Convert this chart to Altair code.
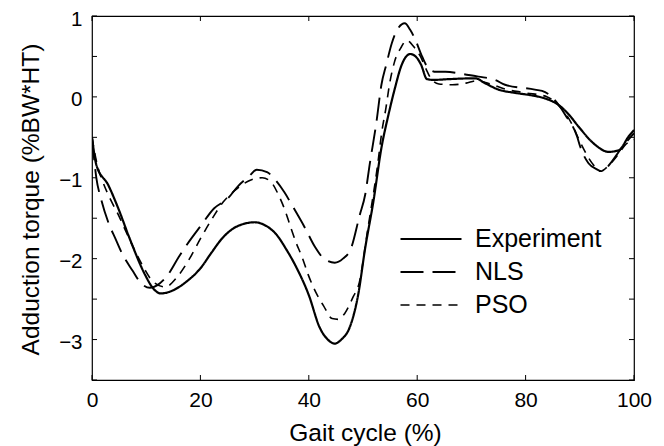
import altair as alt
import pandas as pd

# ---- data ----
exp_x = [0, 0.8, 3, 4.8, 7, 9.8, 11.2, 12.7, 15, 17.5, 20, 22, 24, 26, 28, 30, 32, 34, 35.8, 37.8,
         40, 42, 43.5, 44.8, 46, 47.6, 49.1, 50.4, 51.9, 53.4, 54.7, 55.9, 57.1, 58.7, 59.7, 60.7,
         61.8, 63, 66, 70.7, 72.5, 75, 78, 81, 83.6, 86.1, 88, 89.8, 92.8, 95.3, 97.2, 99, 100]
exp_y = [-0.5, -0.84, -1.09, -1.37, -1.76, -2.2, -2.36, -2.43, -2.39, -2.28, -2.12, -1.93, -1.75,
         -1.63, -1.57, -1.55, -1.59, -1.7, -1.88, -2.12, -2.45, -2.85, -3.0, -3.05, -3.0, -2.84,
         -2.45, -1.87, -1.3, -0.63, -0.22, 0.11, 0.39, 0.53, 0.5, 0.4, 0.22, 0.21, 0.22, 0.23, 0.17,
         0.09, 0.05, 0.02, -0.02, -0.1, -0.22, -0.37, -0.59, -0.68, -0.66, -0.49, -0.41]

nls_x = [0, 0.8, 1.7, 3, 4.3, 5.5, 7.5, 9, 10.7, 12, 14, 16, 18, 20, 22.5, 25, 27, 29, 30.4, 32.3,
         34, 35.5, 37, 39.3, 41.1, 42.8, 44.8, 46.3, 47.8, 49.4, 50.4, 51.2, 52.5, 53.4, 54.3, 55.3,
         56.5, 57.7, 58.7, 59.7, 60.9, 62.1, 63.5, 65.2, 69.5, 71.3, 74.4, 76.2, 81.7, 83.6, 86.1,
         87.3, 89.5, 90.1, 91.6, 93, 94.1, 95.9, 97.5, 98.7, 100]
nls_y = [-0.5, -1.0, -1.27, -1.55, -1.75, -1.93, -2.15, -2.3, -2.36, -2.33, -2.2, -1.98, -1.78, -1.6,
         -1.38, -1.26, -1.1, -0.98, -0.9, -0.93, -1.04, -1.18, -1.35, -1.62, -1.85, -2.0, -2.05, -2.0,
         -1.87, -1.46, -1.21, -0.85, -0.3, 0.15, 0.4, 0.66, 0.85, 0.91, 0.83, 0.7, 0.5, 0.35, 0.31,
         0.31, 0.27, 0.25, 0.21, 0.15, 0.09, 0.06, -0.1, -0.22, -0.49, -0.62, -0.82, -0.89, -0.92,
         -0.8, -0.65, -0.55, -0.45]

pso_x = [0, 1, 2, 3.5, 4.8, 6.3, 8.2, 9.7, 11.2, 13.5, 15.8, 18, 20.2, 22.4, 24.2, 26.3, 29.2, 31.4,
         33, 34.4, 35.6, 36.6, 37.7, 38.7, 39.9, 41.4, 42.7, 44.3, 45.5, 46.6, 48.2, 49.3, 50.8,
         52.7, 53.5, 54.2, 54.9, 55.8, 57.1, 58, 59.6, 60.6, 61.6, 62.6, 64, 66.5, 69, 71, 73.5, 76,
         80, 84, 86, 87.3, 88.5, 90, 92.5, 93.8, 95.3, 97.2, 98.3, 100]
pso_y = [-0.5, -0.85, -1.05, -1.28, -1.45, -1.67, -1.94, -2.13, -2.28, -2.35, -2.22, -2.0, -1.73,
         -1.48, -1.3, -1.16, -1.03, -1.0, -1.05, -1.21, -1.4, -1.6, -1.81, -1.97, -2.2, -2.43, -2.58,
         -2.74, -2.75, -2.68, -2.47, -2.3, -1.67, -0.84, -0.42, -0.15, 0.16, 0.43, 0.62, 0.70, 0.6,
         0.5, 0.35, 0.22, 0.16, 0.15, 0.17, 0.2, 0.16, 0.1, 0.05, 0.0, -0.1, -0.2, -0.33, -0.55,
         -0.84, -0.92, -0.85, -0.7, -0.6, -0.53]

series_names = ["Experiment", "NLS", "PSO"]
x_ticks = [0, 20, 40, 60, 80, 100]
y_ticks = [-3.5, -3, -2.5, -2, -1.5, -1, -0.5, 0, 0.5, 1]
y_labels = [-3, -2, -1, 0, 1]

# ---- build tables ----
rows = []
for name, xs, ys in zip(series_names, [exp_x, nls_x, pso_x], [exp_y, nls_y, pso_y]):
    for a, b in zip(xs, ys):
        rows.append({"x": a, "y": b, "series": name})
df = pd.DataFrame(rows)
xt = pd.DataFrame({"x": x_ticks})
yt = pd.DataFrame({"y": y_ticks})

W, H = 542, 364
FONT = "Liberation Sans"
TL = 5

xscale = alt.Scale(domain=[0, 100], nice=False, zero=False)
yscale = alt.Scale(domain=[-3.5, 1], nice=False, zero=False)

xaxis = alt.Axis(values=x_ticks, title="Gait cycle (%)", domain=False, ticks=False,
                 tickSize=0, grid=False, labelPadding=9, labelFontSize=21, labelFlush=False,
                 labelFont=FONT, labelColor="black", titleFont=FONT, titleFontSize=24.5,
                 titleFontWeight="normal", titleColor="black", titleBaseline="alphabetic",
                 titleY=60, titleX=W / 2 + 2)
yaxis = alt.Axis(values=y_labels, title="Adduction torque (%BW*HT)", domain=False,
                 ticks=False, tickSize=0, grid=False, labelPadding=10, labelFontSize=20.5,
                 labelFlush=False, labelOffset=3,
                 labelFont=FONT, labelColor="black", titleFont=FONT, titleFontSize=24.5,
                 titleFontWeight="normal", titleColor="black", titleBaseline="alphabetic",
                 titleX=-54, titleY=183)

legend = alt.Legend(title=None, orient="none", legendX=307, legendY=211,
                    symbolType="stroke", symbolSize=3721, clipHeight=24, rowPadding=8,
                    labelOffset=12, labelFont=FONT, labelFontSize=25,
                    labelColor="black", padding=0, symbolStrokeColor="black")

lines = alt.Chart(df).mark_line(interpolate="monotone", color="black", clip=True).encode(
    x=alt.X("x:Q", scale=xscale, axis=xaxis),
    y=alt.Y("y:Q", scale=yscale, axis=yaxis),
    strokeDash=alt.StrokeDash("series:N",
                              scale=alt.Scale(domain=series_names,
                                              range=[[1, 0], [23, 9], [9, 7]]),
                              legend=legend),
    strokeWidth=alt.StrokeWidth("series:N",
                                scale=alt.Scale(domain=series_names, range=[2.2, 1.6, 1.6]),
                                legend=legend),
)

left_ticks = alt.Chart(yt).mark_rule(color="black", strokeWidth=1).encode(
    y=alt.Y("y:Q", scale=yscale, axis=yaxis), x=alt.value(0), x2=alt.value(TL))
right_ticks = alt.Chart(yt).mark_rule(color="black", strokeWidth=1).encode(
    y=alt.Y("y:Q", scale=yscale, axis=yaxis), x=alt.value(W - TL), x2=alt.value(W))
bottom_ticks = alt.Chart(xt).mark_rule(color="black", strokeWidth=1).encode(
    x=alt.X("x:Q", scale=xscale, axis=xaxis), y=alt.value(H - TL), y2=alt.value(H))
top_ticks = alt.Chart(xt).mark_rule(color="black", strokeWidth=1).encode(
    x=alt.X("x:Q", scale=xscale, axis=xaxis), y=alt.value(0), y2=alt.value(TL))

chart = alt.layer(lines, left_ticks, right_ticks, bottom_ticks, top_ticks).properties(
    width=W, height=H,
    autosize=alt.AutoSizeParams(type="none"),
    padding={"left": 84, "top": 8, "right": 22, "bottom": 66},
    background="white",
).configure_view(stroke="black", strokeWidth=1.2)

chart.save("out.html", embed_options={"renderer": "svg", "actions": False})
